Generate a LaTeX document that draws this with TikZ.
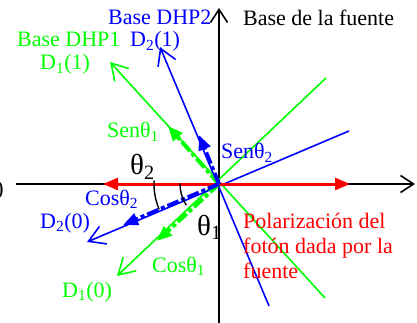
\documentclass[tikz,border=0pt]{standalone}
\usepackage{fontspec}
\setmainfont{Liberation Serif}
\usetikzlibrary{arrows.meta}
\definecolor{pgreen}{RGB}{0,255,0}
\definecolor{pblue}{RGB}{0,0,255}
\definecolor{pred}{RGB}{255,0,0}
\begin{document}
\begin{tikzpicture}[x=1pt,y=-1pt,
  lbl/.style={inner sep=0pt, anchor=base west, font=\fontsize{22}{25}\selectfont},
  biglbl/.style={inner sep=0pt, anchor=base west, font=\fontsize{29}{32}\selectfont},
  vec/.style={line width=1.6pt, -{Straight Barb[length=16pt,width=19pt,line width=1.6pt]}},
  axisline/.style={line width=1.6pt, black, -{Straight Barb[length=13pt,width=17pt,line width=1.6pt]}},
  comp/.style={line width=4pt, dash pattern=on 12pt off 3pt on 4pt off 3pt, -{Triangle[length=15pt,width=12pt]}},
  anglearc/.style={line width=1.4pt, black}]
\useasboundingbox (0,0) rectangle (417,323);
% coordinates
\coordinate (O) at (219,184);
\coordinate (d11) at (110,62);  \coordinate (d1e) at (325,298);
\coordinate (d10) at (117,276); \coordinate (d1f) at (326,78);
\coordinate (d21) at (160,47);  \coordinate (d2e) at (269,306);
\coordinate (d20) at (87,242);  \coordinate (d2f) at (349,131);
\coordinate (s1) at (168,126);  \coordinate (c1) at (157,241);
\coordinate (s2) at (199,135);  \coordinate (c2) at (123,225);
\coordinate (redL) at (103,184); \coordinate (redR) at (350,184);
\coordinate (axL) at (16,184);  \coordinate (axR) at (415,184);
\coordinate (axT) at (219,8);   \coordinate (axB) at (219,323);
% axes
\draw[axisline] (axL) -- (axR);
\draw[axisline] (axB) -- (axT);
% bases
\draw[vec, pgreen] (d1e) -- (d11);
\draw[vec, pgreen] (d1f) -- (d10);
\draw[vec, pblue] (d2e) -- (d21);
\draw[vec, pblue] (d2f) -- (d20);
% photon polarization
\draw[pred, line width=3pt, {Triangle[length=15pt,width=12pt]}-{Triangle[length=15pt,width=12pt]}] (redL) -- (redR);
% components
\draw[comp, pgreen] (O) -- (s1);
\draw[comp, pgreen] (O) -- (c1);
\draw[comp, pblue] (O) -- (s2);
\draw[comp, pblue] (O) -- (c2);
% angle arcs
\draw[anglearc] (O) ++(183:65) arc[start angle=183, end angle=157, radius=65];
\draw[anglearc] (O) ++(181:39) arc[start angle=181, end angle=147, radius=39];
% labels
\node[lbl, pblue] (tDHP2) at (108,25) {Base DHP2};
\node[lbl, pgreen] (tDHP1) at (17,47) {Base DHP1};
\node[lbl, pblue] (tD21) at (130,47) {D\textsubscript{2}(1)};
\node[lbl, pgreen] (tD11) at (40,70) {D\textsubscript{1}(1)};
\node[lbl, black] (tfuente) at (243,26) {Base de la fuente};
\node[lbl, pgreen] (tsen1) at (107,138) {Senθ\textsubscript{1}};
\node[lbl, pblue] (tsen2) at (221,159) {Senθ\textsubscript{2}};
\node[biglbl, black] (tth2) at (130,175) {θ\textsubscript{2}};
\node[biglbl, black] (tth1) at (197,235) {θ\textsubscript{1}};
\node[lbl, pblue] (tcos2) at (85,205) {Cosθ\textsubscript{2}};
\node[lbl, pblue] (tD20) at (40,228) {D\textsubscript{2}(0)};
\node[lbl, pgreen] (tcos1) at (152,272) {Cosθ\textsubscript{1}};
\node[lbl, pgreen] (tD10) at (62,297) {D\textsubscript{1}(0)};
\node[lbl, pred] (tpol1) at (243,228) {Polarización del};
\node[lbl, pred] (tpol2) at (243,253) {fotón dada por la};
\node[lbl, pred] (tpol3) at (243,278) {fuente};
\node[lbl, black, anchor=base east] (tparen) at (4,195) {)};
\end{tikzpicture}
\end{document}
